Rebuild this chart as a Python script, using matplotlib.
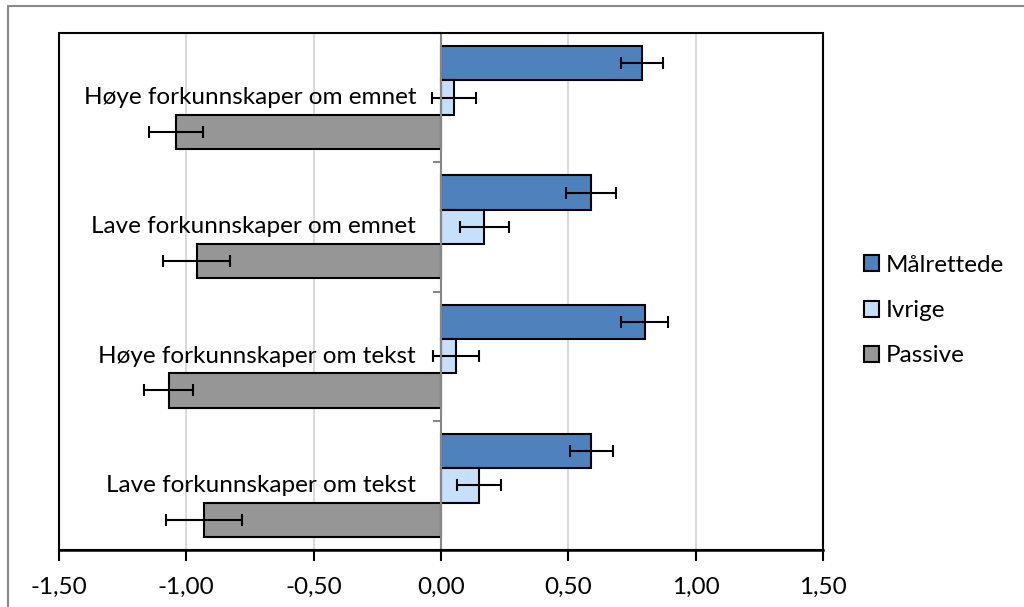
import numpy as np
import matplotlib.pyplot as plt
from matplotlib.patches import Rectangle

plt.rcParams['font.family'] = ['Lato', 'DejaVu Sans']

# categories top to bottom
categories = ["Høye forkunnskaper om emnet", "Lave forkunnskaper om emnet",
              "Høye forkunnskaper om tekst", "Lave forkunnskaper om tekst"]
series = ["Målrettede", "Ivrige", "Passive"]

malrettede = [0.79, 0.59, 0.80, 0.59]
ivrige = [0.05, 0.17, 0.06, 0.15]
passive = [-1.04, -0.96, -1.07, -0.93]

malrettede_err = [0.083, 0.098, 0.092, 0.085]
ivrige_err = [0.086, 0.096, 0.090, 0.086]
passive_err = [0.106, 0.130, 0.096, 0.150]

colors = ["#4f81bd", "#c6dffa", "#969696"]
xticks = [-1.5, -1.0, -0.5, 0.0, 0.5, 1.0, 1.5]
fs = 17.5

fig = plt.figure(figsize=(10.24, 6.07), dpi=100)
ax = fig.add_axes([59 / 1024, 1 - 550 / 607, (823 - 59) / 1024, (550 - 33) / 607])

y = np.arange(len(categories))
h = 0.265
vals = [malrettede, ivrige, passive]
errs = [malrettede_err, ivrige_err, passive_err]
for k, (v, e, c, name) in enumerate(zip(vals, errs, colors, series)):
    pos = y + (k - 1) * h
    ax.barh(pos, v, height=h, color=c, edgecolor="black", linewidth=1.5,
            label=name, zorder=2)
    ax.errorbar(v, pos, xerr=e, fmt="none", ecolor="black", elinewidth=1.5,
                capsize=4, capthick=1.5, zorder=3)

# category labels sit just left of the zero line
for i, cat in enumerate(categories):
    ax.annotate(cat, xy=(0, i), xytext=(-25, 0), textcoords="offset pixels",
                ha="right", va="center", fontsize=fs, color="black")

ax.set_xlim(-1.5, 1.5)
ax.set_ylim(3.5, -0.5)
ax.set_xticks(xticks)
ax.set_xticklabels([f"{t:.2f}".replace(".", ",") for t in xticks], fontsize=fs)
ax.tick_params(axis="x", direction="out", length=8, width=1.5, color="black", pad=11)
ax.xaxis.grid(True, color="#d9d9d9", linewidth=1.5, zorder=0)
ax.set_axisbelow(True)

# vertical axis at zero with boundary ticks
ax.spines["left"].set_position(("data", 0))
ax.spines["left"].set_color("#868686")
ax.spines["left"].set_linewidth(1.5)
ax.spines["left"].set_zorder(4)
ax.set_yticks(np.arange(-0.5, 4, 1.0))
ax.set_yticklabels([])
ax.tick_params(axis="y", direction="out", length=6, width=1.5, color="#868686")

ax.spines["bottom"].set_linewidth(1.8)
ax.spines["bottom"].set_zorder(4)
ax.spines["top"].set_visible(False)
ax.spines["right"].set_visible(False)
ax.add_patch(Rectangle((0, 0), 1, 1, transform=ax.transAxes, fill=False,
                       edgecolor="black", linewidth=1.5, zorder=5, clip_on=False))

leg = fig.legend(loc="upper left", bbox_to_anchor=(842 / 1024, 1 - 233 / 607),
                 frameon=False, fontsize=fs, handlelength=0.62, handleheight=0.62,
                 handletextpad=0.3, labelspacing=1.0)
for p in leg.get_patches():
    p.set_linewidth(1.5)

# outer chart border
fig.add_artist(Rectangle((8 / 1024, -0.1), 1.1, 1 - 6 / 607 + 0.1,
                         transform=fig.transFigure, fill=False,
                         edgecolor="#898989", linewidth=1.5))

fig.savefig("out.png", dpi=100)
